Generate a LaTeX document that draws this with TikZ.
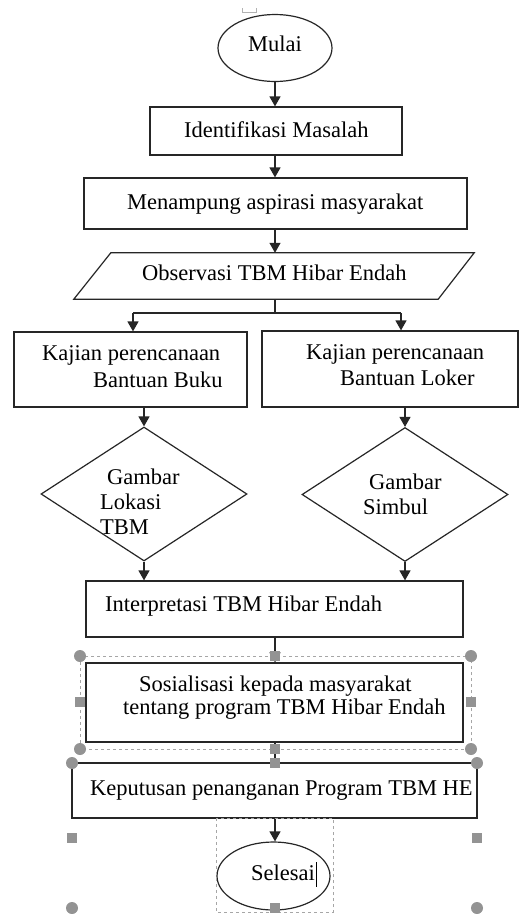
\documentclass[tikz,border=0pt]{standalone}
\usepackage{fontspec}
\setmainfont{Liberation Serif}
\usetikzlibrary{shapes.geometric,arrows.meta,calc}
\begin{document}
\begin{tikzpicture}[x=1pt,y=-1pt,
  every node/.style={font=\fontsize{22.5}{27}\selectfont},
  ln/.style={draw=black!85,line width=1.2pt},
  box/.style={ln,rectangle,inner sep=0pt},
  arr/.style={black!85,line width=1.2pt,-{Triangle[length=10pt,width=11pt]}},
  txt/.style={anchor=west,inner sep=0pt,text height=0.7em,text depth=0.2em,yshift=-4.5pt},
  hcirc/.style={circle,fill=gray!85,draw=none,minimum size=12pt,inner sep=0pt},
  hsq/.style={rectangle,fill=gray!85,draw=none,minimum size=10.5pt,inner sep=0pt},
  sel/.style={draw=gray!70,dashed,line width=0.6pt}]
\useasboundingbox (0,0) rectangle (520,914);
\fill[white] (0,0) rectangle (520,914);

% tiny mark at top
\draw[gray!60,line width=0.6pt] (242,8) -- (242,12) -- (256,12) -- (256,8);

% nodes
\node[box,ellipse,minimum width=114pt,minimum height=67pt] (start) at (275,48) {};
\node[txt] (tstart) at (248,44) {Mulai};
\node[box,minimum width=252pt,minimum height=48pt] (idm) at (276,131) {};
\node[txt] (tidm) at (184,130) {Identifikasi Masalah};
\node[box,minimum width=383pt,minimum height=51pt] (asp) at (275.5,203.5) {};
\node[txt] (tasp) at (127,202) {Menampung aspirasi masyarakat};
\node[inner sep=0pt,minimum width=400pt,minimum height=46pt] (obs) at (274,276) {};
\draw[ln] ($(obs.north west)+(37,0)$) -- (obs.north east) -- ($(obs.south east)-(36,0)$) -- (obs.south west) -- cycle;
\node[txt] (tobs) at (142,273) {Observasi TBM Hibar Endah};

\node[box,minimum width=233pt,minimum height=75pt] (kb) at (130.5,369.5) {};
\node[txt] (tkb1) at (42,353) {Kajian perencanaan};
\node[txt] (tkb2) at (93,380) {Bantuan Buku};
\node[box,minimum width=256pt,minimum height=76pt] (kl) at (390,369) {};
\node[txt] (tkl1) at (306,352) {Kajian perencanaan};
\node[txt] (tkl2) at (340,378) {Bantuan Loker};

\node[ln,diamond,inner sep=0pt,minimum width=206pt,minimum height=134pt] (dl) at (144,494) {};
\node[txt] (tdl1) at (107,477) {Gambar};
\node[txt] (tdl2) at (100,502) {Lokasi};
\node[txt] (tdl3) at (100,527) {TBM};
\node[ln,diamond,inner sep=0pt,minimum width=206pt,minimum height=134pt] (dr) at (405,494.5) {};
\node[txt] (tdr1) at (369,482) {Gambar};
\node[txt] (tdr2) at (363,507) {Simbul};

\node[box,minimum width=377pt,minimum height=56pt] (ip) at (274.5,609) {};
\node[txt] (tip) at (105,604) {Interpretasi TBM Hibar Endah};
\node[box,minimum width=377pt,minimum height=79pt] (so) at (274.5,702.5) {};
\node[txt] (tso1) at (139,684) {Sosialisasi kepada masyarakat};
\node[txt] (tso2) at (123,707) {tentang program TBM Hibar Endah};
\node[box,minimum width=405pt,minimum height=55pt] (kp) at (274.5,790.5) {};
\node[txt] (tkp) at (90,788) {Keputusan penanganan Program TBM HE};
\node[box,ellipse,minimum width=113pt,minimum height=68pt] (end) at (273.5,876) {};
\node[txt] (tend) at (251,873) {Selesai};
\draw[black,line width=0.8pt] (316,862) -- (316,887);

% connectors
\coordinate (j) at (275,313);
\coordinate (jl) at (133,313);
\coordinate (jr) at (401,313);
\draw[arr] (start.south) -- (start.south |- idm.north);
\draw[arr] (idm.south -| start.south) -- (start.south |- asp.north);
\draw[arr] (asp.south -| start.south) -- (start.south |- obs.north);
\draw[ln] (obs.south -| j) -- (j);
\draw[ln] (jl) -- (jr);
\draw[arr] (jl) -- (jl |- kb.north);
\draw[arr] (jr) -- (jr |- kl.north);
\draw[arr] (kb.south -| dl.north) -- (dl.north);
\draw[arr] (kl.south -| dr.north) -- (dr.north);
\draw[arr] (dl.south) -- (dl.south |- ip.north);
\draw[arr] (dr.south) -- (dr.south |- ip.north);
\draw[arr] (ip.south -| j) -- (j |- so.north);
\draw[ln] (so.south -| j) -- (j |- kp.north);
\draw[arr] (kp.south -| j) -- (j |- end.north);

% selection marks
\draw[sel] (80,656) rectangle (471,749);
\draw[sel] (216,818) rectangle (333,912);
\foreach \p in {(80,656),(471,656),(80,749),(471,749),(72,763),(477,763),(72,908),(477,908)}
  \node[hcirc] at \p {};
\foreach \p in {(275,656),(275,749),(80,702),(471,702),(275,763),(72,838),(477,838),(275,908)}
  \node[hsq] at \p {};
\end{tikzpicture}
\end{document}
